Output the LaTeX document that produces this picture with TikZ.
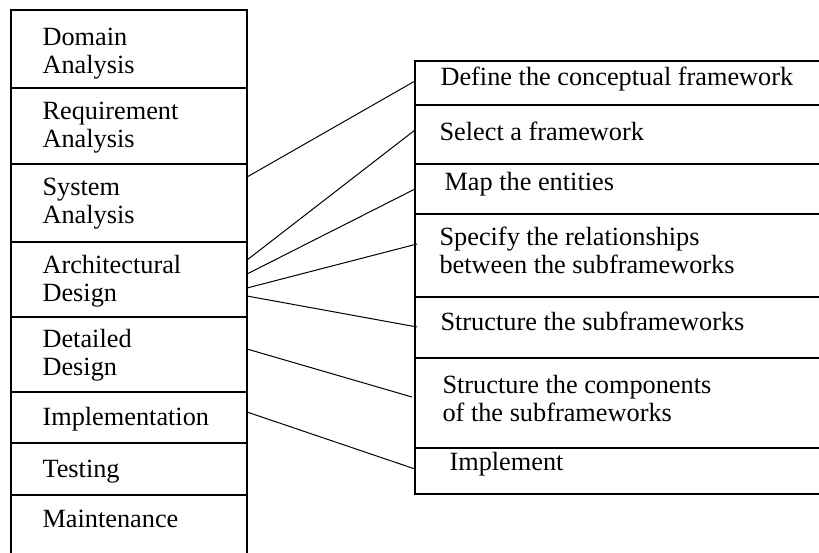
\documentclass[tikz,border=0pt]{standalone}
\usepackage{fontspec}
\setmainfont{Liberation Serif}
\usetikzlibrary{calc}
\begin{document}
\begin{tikzpicture}[x=1pt,y=-1pt, line width=1.1pt,
  cell/.style={draw, rectangle, inner sep=0pt, outer sep=0pt, anchor=north west},
  lcell/.style={cell, minimum width=236pt},
  rcell/.style={cell, minimum width=430pt},
  lbl/.style={anchor=base west, inner sep=0pt, align=left, font=\fontsize{26.3}{28}\selectfont},
  link/.style={line width=1pt}]
\useasboundingbox (0,0) rectangle (819,552);
\fill[white] (0,0) rectangle (819,552);
\clip (0,0) rectangle (819,552);
% left column
\node[lcell, minimum height=78pt] (L1) at (11,10) {};
\node[lcell, minimum height=76pt] (L2) at (11,88) {};
\node[lcell, minimum height=78pt] (L3) at (11,164) {};
\node[lcell, minimum height=75pt] (L4) at (11,242) {};
\node[lcell, minimum height=75pt] (L5) at (11,317) {};
\node[lcell, minimum height=51pt] (L6) at (11,392) {};
\node[lcell, minimum height=52pt] (L7) at (11,443) {};
\node[lcell, minimum height=80pt] (L8) at (11,495) {};
% right column
\node[rcell, minimum height=44pt] (R1) at (415,61) {};
\node[rcell, minimum height=59pt] (R2) at (415,105) {};
\node[rcell, minimum height=50pt] (R3) at (415,164) {};
\node[rcell, minimum height=83pt] (R4) at (415,214) {};
\node[rcell, minimum height=61pt] (R5) at (415,297) {};
\node[rcell, minimum height=90pt] (R6) at (415,358) {};
\node[rcell, minimum height=46pt] (R7) at (415,448) {};
% left labels (anchor = baseline of last line)
\node[lbl] (t1) at (42,73) {Domain\\Analysis};
\node[lbl] (t2) at (42,147) {Requirement\\Analysis};
\node[lbl] (t3) at (42,223) {System\\Analysis};
\node[lbl] (t4) at (42,301) {Architectural\\Design};
\node[lbl] (t5) at (42,375) {Detailed\\Design};
\node[lbl] (t6) at (42,425) {Implementation};
\node[lbl] (t7) at (42,477) {Testing};
\node[lbl] (t8) at (42,527) {Maintenance};
% right labels
\node[lbl] (s1) at (440,85) {Define the conceptual framework};
\node[lbl] (s2) at (439,140) {Select a framework};
\node[lbl] (s3) at (444,190) {Map the entities};
\node[lbl] (s4) at (439,273) {Specify the relationships\\between the subframeworks};
\node[lbl] (s5) at (440,330) {Structure the subframeworks};
\node[lbl] (s6) at (442,421) {Structure the components\\of the subframeworks};
\node[lbl] (s7) at (449,470) {Implement};
% connectors
\draw[link] ($(L3.north east)+(0,13)$) -- ($(R1.north west)+(0,20)$);
\draw[link] ($(L4.north east)+(0,18)$) -- ($(R2.north west)+(0,25)$);
\draw[link] ($(L4.north east)+(0,32)$) -- ($(R3.north west)+(0,25)$);
\draw[link] ($(L4.north east)+(0,46)$) -- ($(R4.north west)+(2,30)$);
\draw[link] ($(L4.north east)+(0,54)$) -- ($(R5.north west)+(2,30)$);
\draw[link] ($(L5.north east)+(0,32)$) -- ($(R6.north west)+(-3,39)$);
\draw[link] ($(L6.north east)+(0,20)$) -- ($(R7.north west)+(0,21)$);
\end{tikzpicture}
\end{document}
